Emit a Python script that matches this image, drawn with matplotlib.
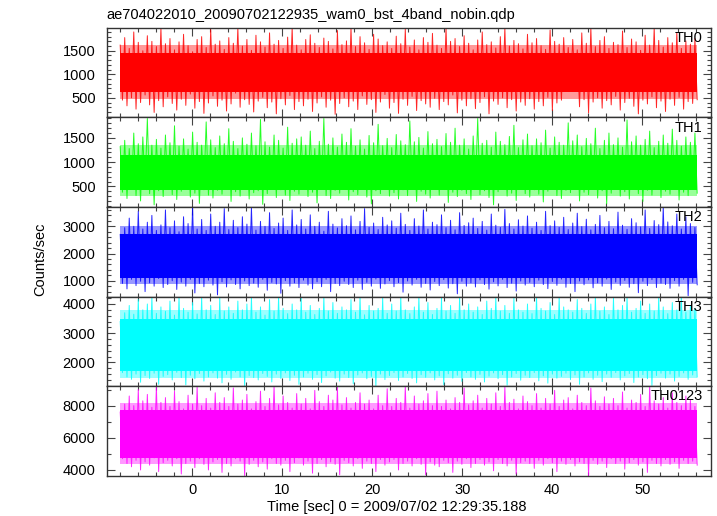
import numpy as np
import matplotlib
matplotlib.use("Agg")
import matplotlib.pyplot as plt
from matplotlib.ticker import MultipleLocator

plt.rcParams['font.family'] = ['Liberation Sans', 'DejaVu Sans']
plt.rcParams['font.size'] = 10.5

title = "ae704022010_20090702122935_wam0_bst_4band_nobin.qdp"
xlabel = "Time [sec] 0 = 2009/07/02 12:29:35.188"
ylabel = "Counts/sec"

# time span covered by the light curve (sec)
t_start = -8.0
t_stop = 56.1

# band names and colours
bands = ["TH0", "TH1", "TH2", "TH3", "TH0123"]
colors = ["#ff0000", "#00ff00", "#0000ff", "#00ffff", "#ff00ff"]

# peaks (hi) and dips (lo) every ~0.5 s
th0_hi = [1620, 1780, 1550, 1900, 1680, 1500, 1820, 1700, 1590, 1990,
          1650, 1760, 1520, 1690, 1850, 1610, 1480, 1740, 1800, 1570,
          1950, 1640, 1710, 1530, 1780, 1660, 1990, 1600, 1740, 1510,
          1830, 1690, 1580, 1880, 1640, 1720, 1550, 1790, 1990, 1620,
          1520, 1740, 1840, 1660, 1570, 1770, 1700, 1540, 1930, 1630,
          1710, 1990, 1590, 1800, 1670, 1530, 1850, 1750, 1610, 1690,
          1550, 1810, 1650, 1960, 1580, 1730, 1520, 1780, 1680, 1870,
          1620, 1550, 1990, 1700, 1760, 1590, 1820, 1660, 1520, 1730,
          1900, 1630, 1690, 1560, 1800, 1990, 1600, 1720, 1650, 1540,
          1850, 1670, 1760, 1610, 1530, 1940, 1700, 1640, 1780, 1570,
          1740, 1520, 1880, 1660, 1990, 1590, 1720, 1800, 1550, 1680,
          1630, 1920, 1570, 1750, 1690, 1510, 1830, 1620, 1990, 1720,
          1580, 1780, 1670, 1890, 1550, 1710, 1640, 1760]
th0_lo = [450, 330, 500, 260, 400, 560, 350, 190, 440, 310,
          520, 380, 240, 470, 340, 580, 280, 420, 170, 390,
          540, 320, 450, 220, 370, 600, 300, 460, 360, 200,
          430, 510, 290, 410, 160, 480, 350, 550, 250, 420,
          330, 470, 210, 390, 520, 300, 450, 150, 380, 500,
          310, 430, 250, 540, 360, 460, 190, 410, 570, 280,
          400, 170, 470, 340, 530, 230, 440, 370, 300, 490,
          250, 420, 350, 560, 180, 450, 330, 480, 270, 400,
          520, 160, 430, 360, 500, 290, 460, 220, 410, 340,
          480, 260, 420, 330, 510, 230, 390, 450, 680, 720,
          690, 310, 460, 180, 410, 500, 280, 440, 350, 530,
          240, 400, 490, 320, 160, 450, 370, 520, 290, 430,
          210, 470, 340, 510, 260, 420, 380, 460]
th1_hi = [1320, 1450, 1280, 1600, 1380, 1520, 1900, 1350, 1470, 1290,
          1560, 1400, 1750, 1330, 1480, 1270, 1620, 1410, 1350, 1830,
          1460, 1300, 1540, 1380, 1690, 1430, 1280, 1500, 1370, 1600,
          1340, 1880, 1420, 1310, 1560, 1450, 1290, 1720, 1390, 1480,
          1520, 1350, 1640, 1280, 1430, 1900, 1370, 1500, 1310, 1580,
          1410, 1690, 1330, 1460, 1270, 1550, 1400, 1780, 1340, 1490,
          1300, 1570, 1440, 1360, 1850, 1420, 1510, 1290, 1630, 1380,
          1470, 1320, 1590, 1410, 1700, 1350, 1480, 1270, 1540, 1900,
          1390, 1450, 1310, 1620, 1430, 1360, 1530, 1760, 1300, 1460,
          1580, 1340, 1480, 1400, 1660, 1290, 1520, 1410, 1350, 1810,
          1440, 1560, 1320, 1490, 1380, 1700, 1280, 1450, 1600, 1360,
          1500, 1310, 1870, 1420, 1540, 1350, 1470, 1640, 1300, 1430,
          1560, 1390, 1680, 1450, 1330, 1520, 1410, 1600]
th1_lo = [380, 250, 440, 310, 200, 460, 350, 120, 410, 290,
          450, 330, 230, 400, 470, 280, 360, 150, 430, 320,
          260, 420, 340, 460, 190, 390, 300, 450, 240, 370,
          410, 130, 350, 470, 270, 430, 320, 210, 400, 340,
          460, 290, 380, 160, 440, 310, 250, 420, 360, 470,
          220, 390, 330, 450, 280, 140, 410, 350, 460, 300,
          370, 240, 430, 310, 470, 190, 400, 340, 260, 440,
          320, 450, 170, 380, 290, 420, 350, 230, 460, 330,
          410, 270, 120, 390, 440, 300, 360, 210, 470, 350,
          280, 430, 340, 180, 400, 460, 310, 250, 420, 370,
          450, 200, 380, 330, 470, 260, 410, 140, 360, 440,
          300, 390, 240, 460, 350, 190, 420, 320, 450, 270,
          400, 340, 460, 220, 380, 310, 440, 360]
th2_hi = [2700, 2950, 3300, 3000, 3550, 2900, 3150, 3400, 2850, 3050,
          3600, 2950, 3200, 2800, 3350, 3100, 3700, 2900, 3250, 2850,
          3450, 3000, 3150, 3650, 2880, 3220, 2950, 3350, 3080, 3700,
          2860, 3180, 3000, 3500, 2920, 3120, 3300, 2850, 3600, 3050,
          3250, 2900, 3420, 3000, 3150, 2820, 3550, 3080, 2940, 3280,
          3020, 3380, 2870, 3180, 3650, 2960, 3120, 2880, 3330, 3050,
          3200, 2930, 3480, 3070, 2850, 3280, 3010, 3600, 2900, 3150,
          3060, 3420, 2950, 3220, 2870, 3500, 3030, 3130, 3300, 2920,
          3180, 2860, 3450, 3040, 2960, 3620, 3100, 2900, 3240, 3010,
          3380, 2930, 3150, 2850, 3550, 3020, 3200, 2960, 3330, 2880,
          3120, 3480, 2990, 3260, 2870, 3070, 3400, 2950, 3180, 2910,
          3520, 3040, 2890, 3280, 3130, 2980, 3600, 2920, 3210, 3060,
          3700, 3160, 3020, 3450, 2900, 3350, 3100, 2960]
th2_lo = [900, 700, 1050, 820, 980, 600, 920, 800, 1080, 750,
          860, 1000, 680, 950, 800, 1050, 550, 900, 780, 1020,
          840, 480, 960, 770, 1030, 860, 700, 990, 820, 910,
          760, 1050, 650, 940, 880, 540, 1000, 800, 920, 750,
          1020, 840, 700, 960, 780, 1050, 600, 900, 820, 980,
          860, 750, 1020, 680, 940, 800, 1060, 720, 880, 1000,
          780, 930, 580, 990, 840, 1050, 760, 900, 660, 970,
          820, 1040, 730, 890, 520, 980, 800, 920, 770, 1030,
          860, 690, 960, 810, 1050, 750, 910, 620, 990, 840,
          940, 780, 1020, 860, 710, 970, 830, 1060, 760, 900,
          600, 990, 850, 1030, 740, 920, 800, 1060, 680, 950,
          830, 1010, 760, 890, 560, 980, 820, 1040, 750, 910,
          860, 720, 1000, 800, 1050, 450, 940, 850]
th3_hi = [3400, 3700, 3950, 3650, 4150, 3800, 4000, 4240, 3680, 3900,
          3750, 4100, 3620, 4240, 3850, 3720, 4050, 3660, 4240, 3800,
          3950, 3640, 4200, 3760, 3900, 3680, 4100, 3800, 4000, 4240,
          3720, 3900, 3620, 4150, 3760, 4240, 3850, 3670, 4000, 3800,
          4200, 3720, 3950, 3640, 3850, 4240, 3760, 4050, 3680, 3900,
          3800, 4150, 3720, 4240, 3630, 3950, 3760, 3850, 4200, 3680,
          4000, 3760, 4240, 3800, 3670, 3900, 4240, 3720, 4050, 3640,
          3850, 4200, 3760, 3950, 3680, 4240, 3800, 4000, 3720, 3900,
          3640, 4100, 3850, 4240, 3760, 3950, 3680, 4200, 3800, 3720,
          4000, 3670, 4240, 3850, 3760, 4050, 3640, 4240, 3900, 3800,
          3720, 4150, 3850, 3680, 4000, 4240, 3760, 3900, 3640, 4200,
          3800, 3950, 4240, 3720, 3850, 4100, 3680, 4000, 3760, 4240,
          3900, 3670, 4050, 3800, 4240, 3720, 3950, 3850]
th3_lo = [1650, 1500, 1420, 1600, 1320, 1550, 1450, 1630, 1250, 1520,
          1580, 1400, 1660, 1480, 1230, 1560, 1440, 1620, 1360, 1500,
          1640, 1460, 1300, 1590, 1420, 1670, 1500, 1200, 1550, 1480,
          1400, 1620, 1520, 1330, 1600, 1450, 1640, 1380, 1560, 1250,
          1500, 1630, 1420, 1580, 1310, 1540, 1670, 1460, 1360, 1600,
          1480, 1270, 1570, 1640, 1440, 1520, 1200, 1600, 1410, 1550,
          1650, 1380, 1500, 1620, 1450, 1300, 1580, 1490, 1640, 1400,
          1540, 1240, 1610, 1460, 1560, 1350, 1650, 1500, 1420, 1590,
          1330, 1530, 1640, 1440, 1580, 1220, 1500, 1620, 1390, 1560,
          1480, 1650, 1370, 1540, 1290, 1600, 1460, 1520, 1630, 1410,
          1570, 1250, 1500, 1640, 1420, 1560, 1340, 1600, 1490, 1650,
          1400, 1540, 1620, 1310, 1500, 1580, 1440, 1210, 1550, 1630,
          1460, 1600, 1360, 1520, 1640, 1420, 1570, 1500]
th0123_hi = [7600, 8100, 8600, 8000, 9000, 8300, 8700, 7900, 9200, 8200,
             8500, 7950, 8900, 8250, 7800, 8650, 8100, 9150, 8000, 8450,
             7850, 8800, 8200, 8500, 7950, 9100, 8100, 8350, 8700, 7800,
             8250, 8900, 7950, 8450, 9200, 8050, 8600, 8200, 7850, 8750,
             8100, 8450, 7800, 8950, 8250, 7950, 8650, 8350, 9150, 8050,
             8500, 7850, 8200, 8800, 8100, 8350, 7800, 8650, 8000, 9050,
             7950, 8450, 8200, 9200, 7850, 8600, 8100, 8300, 8750, 8000,
             8900, 7950, 8350, 7800, 8500, 8200, 9100, 8050, 8300, 8650,
             7850, 8450, 8100, 8800, 7950, 9150, 8200, 8400, 7800, 8600,
             8250, 8000, 8750, 7850, 8450, 8100, 8950, 7950, 8350, 8500,
             7800, 8650, 8200, 8000, 9100, 8300, 7950, 8550, 8100, 8450,
             8000, 8850, 7850, 8350, 8200, 8700, 7950, 9200, 8300, 8100,
             8500, 7850, 8800, 8200, 8000, 8600, 8350, 7950]
th0123_lo = [4700, 4400, 4200, 4600, 4000, 4500, 4300, 4750, 3900, 4450,
             4600, 4250, 4700, 3750, 4400, 4550, 4150, 4700, 4350, 4000,
             4500, 4650, 3850, 4400, 4250, 4700, 4550, 3650, 4350, 4600,
             4200, 4500, 4050, 4700, 4400, 4300, 4600, 3900, 4450, 4750,
             4300, 4550, 3800, 4400, 4650, 4200, 4500, 4350, 3700, 4600,
             4450, 4250, 4700, 4100, 4550, 4400, 3900, 4650, 4300, 4500,
             4650, 4000, 4400, 4550, 4250, 4700, 4350, 3700, 4500, 4300,
             4200, 4600, 4450, 3850, 4550, 4350, 4700, 4150, 4400, 4650,
             4300, 4500, 3950, 4650, 4400, 4250, 4600, 3750, 4450, 4550,
             4400, 4100, 4600, 4300, 4700, 4450, 3900, 4550, 4350, 4650,
             4250, 4500, 4400, 3650, 4600, 4350, 4550, 4150, 4700, 4400,
             4550, 4050, 4450, 4650, 4300, 4500, 3850, 4600, 4400, 4250,
             4650, 4350, 4500, 4100, 4600, 4400, 4550, 4300]

his = [th0_hi, th1_hi, th2_hi, th3_hi, th0123_hi]
los = [th0_lo, th1_lo, th2_lo, th3_lo, th0123_lo]

# dense central band of each panel and the wider typical spread (counts/sec)
core = [(620, 1450), (430, 1150), (1100, 2700), (1700, 3500), (4750, 7700)]
halo = [(480, 1620), (300, 1350), (870, 3000), (1480, 3780), (4400, 8150)]

# axis ranges and tick steps
ylims = [(85, 1990), (75, 1923), (414, 3707), (1180, 4250), (3625, 9200)]
ymajor = [500, 500, 1000, 1000, 2000]
yminor = [100, 100, 200, 200, 1000]

fig, axes = plt.subplots(5, 1, figsize=(7.17, 5.16), dpi=100, sharex=True)
fig.subplots_adjust(left=0.1488, right=0.9912, top=0.9463, bottom=0.0775, hspace=0)

for i, ax in enumerate(axes):
    hi = his[i]
    lo = los[i]
    vals = np.empty(2 * len(hi))
    vals[0::2] = hi
    vals[1::2] = lo
    t = np.linspace(t_start, t_stop, len(vals))
    c = colors[i]
    ax.fill_between([t_start, t_stop], halo[i][0], halo[i][1], color=c, alpha=0.4, lw=0)
    ax.fill_between([t_start, t_stop], core[i][0], core[i][1], color=c, lw=0)
    ax.plot(t, vals, color=c, lw=0.7, alpha=0.85)

    ax.set_xlim(-9.5, 57.6)
    ax.set_ylim(*ylims[i])
    ax.xaxis.set_major_locator(MultipleLocator(10))
    ax.xaxis.set_minor_locator(MultipleLocator(2))
    ax.yaxis.set_major_locator(MultipleLocator(ymajor[i]))
    ax.yaxis.set_minor_locator(MultipleLocator(yminor[i]))
    ax.tick_params(which='both', direction='in', top=True, right=True, color='#444444')
    ax.tick_params(which='major', length=6, width=0.8)
    ax.tick_params(which='minor', length=3, width=0.8)
    ax.tick_params(axis='y', pad=8)
    ax.tick_params(axis='x', pad=5)
    for s in ax.spines.values():
        s.set_linewidth(1.0)
        s.set_color('#333333')
    ax.text(0.987, 0.965, bands[i], transform=ax.transAxes, ha='right', va='top')

fig.text(0.1488, 1 - 19 / 516, title, ha='left', va='baseline')
fig.text(397 / 717, 1 - 507 / 516, xlabel, ha='center', va='center')
fig.text(40 / 717, 1 - 259 / 516, ylabel, ha='center', va='center', rotation=90)

fig.savefig("out.png", dpi=100)
